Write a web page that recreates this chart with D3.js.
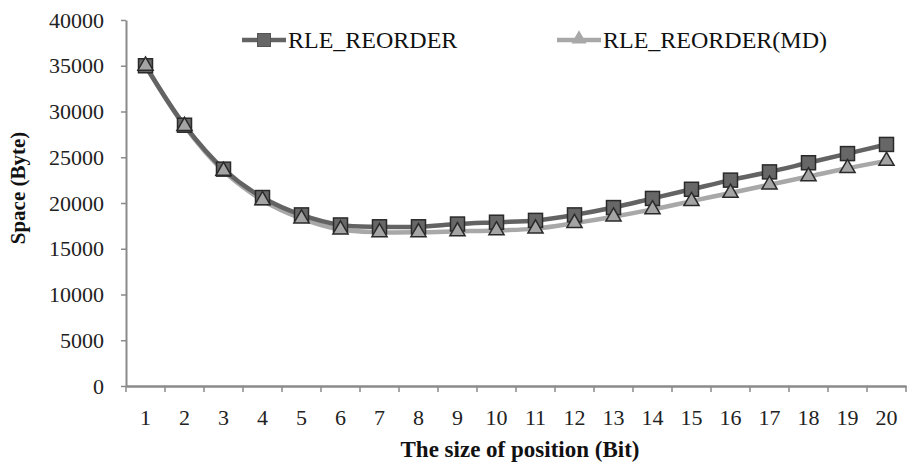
<!DOCTYPE html>
<html>
<head>
<meta charset="utf-8">
<script src="https://cdn.jsdelivr.net/npm/d3@7"></script>
<style>
  body { margin: 0; background: #fff; }
  svg text { font-family: "Liberation Serif", "Times New Roman", serif; }
</style>
</head>
<body>
<svg id="chart" width="907" height="467"></svg>
<script>
// Data
const positions = [1, 2, 3, 4, 5, 6, 7, 8, 9, 10, 11, 12, 13, 14, 15, 16, 17, 18, 19, 20];
const rleReorder = [35000, 28500, 23700, 20600, 18700, 17600, 17400, 17400, 17700, 17900,
                    18100, 18700, 19500, 20500, 21500, 22500, 23400, 24400, 25400, 26400];
const rleReorderMd = [35000, 28400, 23500, 20300, 18300, 17100, 16800, 16800, 16900, 17000,
                      17200, 17800, 18500, 19300, 20200, 21100, 22000, 22900, 23800, 24600];
const seriesNames = ["RLE_REORDER", "RLE_REORDER(MD)"];
const yTicks = [0, 5000, 10000, 15000, 20000, 25000, 30000, 35000, 40000];

const svg = d3.select("svg#chart");
const margin = {top: 20, right: 1, bottom: 81, left: 126};
const width = 907, height = 467;
const SERIF = "'Liberation Serif', 'Times New Roman', serif";

const x = d3.scaleBand()
    .domain(positions)
    .range([margin.left, width - margin.right]);

const y = d3.scaleLinear()
    .domain([0, 40000])
    .range([height - margin.bottom, margin.top]);

const AXIS = "#8a8a8a";

// y axis
const gy = svg.append("g")
    .attr("transform", `translate(${margin.left},0)`)
    .call(d3.axisLeft(y).tickValues(yTicks).tickFormat(d3.format("d"))
        .tickSize(5).tickSizeOuter(0).tickPadding(17));
gy.attr("font-family", null);
gy.select(".domain").attr("stroke", AXIS).attr("stroke-width", 2);
gy.selectAll(".tick line").attr("stroke", AXIS).attr("stroke-width", 1.5);
gy.selectAll(".tick text").attr("font-size", 22).attr("fill", "#222")
    .style("font-family", SERIF);

// x axis, ticks between categories
const gx = svg.append("g")
    .attr("transform", `translate(0,${y(0)})`)
    .call(d3.axisBottom(x).tickSize(0).tickPadding(23));
gx.attr("font-family", null);
gx.select(".domain").attr("stroke", AXIS).attr("stroke-width", 2.5);
gx.selectAll(".tick text").attr("font-size", 22).attr("fill", "#222")
    .style("font-family", SERIF);
gx.selectAll(".sep")
    .data(positions.concat([null]))
    .join("line")
    .attr("class", "sep")
    .attr("x1", (d, i) => margin.left + i * x.step())
    .attr("x2", (d, i) => margin.left + i * x.step())
    .attr("y1", 0)
    .attr("y2", 6)
    .attr("stroke", AXIS)
    .attr("stroke-width", 1.5);

// titles
svg.append("text")
    .attr("x", 520)
    .attr("y", 457)
    .attr("text-anchor", "middle")
    .attr("font-weight", "bold")
    .attr("font-size", 23)
    .attr("fill", "#111")
    .style("font-family", SERIF)
    .text("The size of position (Bit)");

svg.append("text")
    .attr("transform", "translate(25,188) rotate(-90)")
    .attr("text-anchor", "middle")
    .attr("font-weight", "bold")
    .attr("font-size", 21)
    .attr("fill", "#111")
    .style("font-family", SERIF)
    .text("Space (Byte)");

// lines
const line = d3.line()
    .x((d, i) => x(positions[i]) + x.bandwidth() / 2)
    .y(d => y(d))
    .curve(d3.curveCatmullRom);

svg.append("path")
    .datum(rleReorderMd)
    .attr("fill", "none")
    .attr("stroke", "#a8a8a8")
    .attr("stroke-width", 4.5)
    .attr("d", line);

svg.append("path")
    .datum(rleReorder)
    .attr("fill", "none")
    .attr("stroke", "#636363")
    .attr("stroke-width", 4.5)
    .attr("d", line);

const sq = 14;
svg.append("g")
    .selectAll("rect")
    .data(rleReorder)
    .join("rect")
    .attr("x", (d, i) => x(positions[i]) + x.bandwidth() / 2 - sq / 2)
    .attr("y", d => y(d) - sq / 2)
    .attr("width", sq)
    .attr("height", sq)
    .attr("fill", "#676767")
    .attr("stroke", "#2a2a2a")
    .attr("stroke-width", 1.5);

const tri = d3.symbol().type(d3.symbolTriangle).size(100);
svg.append("g")
    .selectAll("path")
    .data(rleReorderMd)
    .join("path")
    .attr("transform", (d, i) => `translate(${x(positions[i]) + x.bandwidth() / 2},${y(d)})`)
    .attr("d", tri)
    .attr("fill", "#a4a4a4")
    .attr("stroke", "#2a2a2a")
    .attr("stroke-width", 1.5);

// legend
const legend = svg.append("g").attr("class", "legend");
legend.append("line")
    .attr("x1", 242).attr("x2", 286).attr("y1", 40).attr("y2", 40)
    .attr("stroke", "#636363").attr("stroke-width", 4.5);
legend.append("rect")
    .attr("x", 264 - 6.5).attr("y", 40 - 6.5)
    .attr("width", 13).attr("height", 13)
    .attr("fill", "#676767").attr("stroke", "#555").attr("stroke-width", 1);
legend.append("text")
    .attr("x", 288).attr("y", 48)
    .attr("font-size", 24).attr("fill", "#111")
    .style("font-family", SERIF)
    .text(seriesNames[0]);

legend.append("line")
    .attr("x1", 557).attr("x2", 601).attr("y1", 40).attr("y2", 40)
    .attr("stroke", "#a8a8a8").attr("stroke-width", 4.5);
legend.append("path")
    .attr("transform", "translate(579,39)")
    .attr("d", tri)
    .attr("fill", "#a8a8a8");
legend.append("text")
    .attr("x", 603).attr("y", 48)
    .attr("font-size", 24).attr("fill", "#111")
    .style("font-family", SERIF)
    .text(seriesNames[1]);
</script>
</body>
</html>
